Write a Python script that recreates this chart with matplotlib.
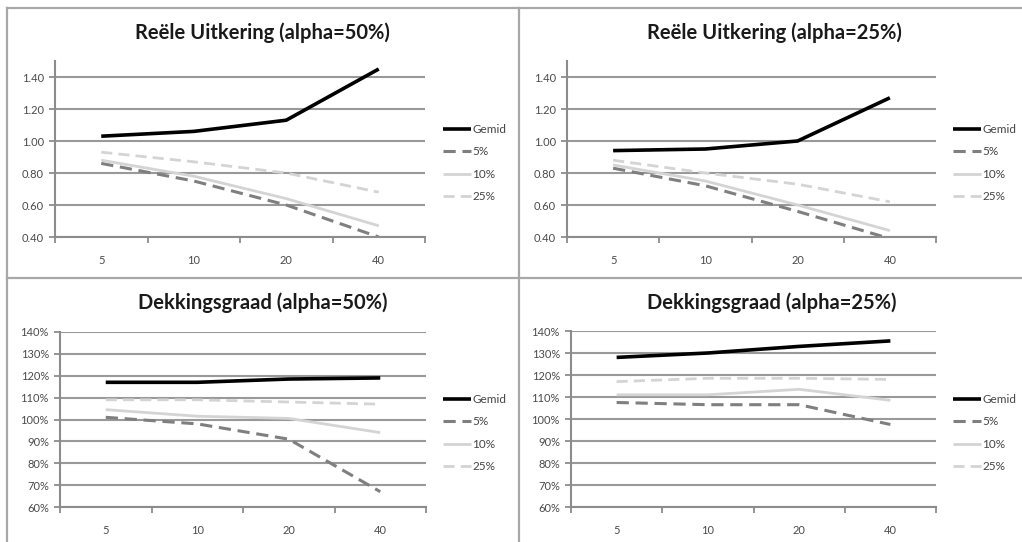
import matplotlib
matplotlib.use("Agg")
import matplotlib.pyplot as plt
from matplotlib.lines import Line2D
from matplotlib.ticker import FuncFormatter, FixedLocator

# ---------------- data ----------------
categories = ["5", "10", "20", "40"]
series_names = ["Gemid", "5%", "10%", "25%"]

uitk50_gemid = [1.03, 1.06, 1.13, 1.45]
uitk50_p5 = [0.86, 0.75, 0.60, 0.40]
uitk50_p10 = [0.88, 0.78, 0.64, 0.47]
uitk50_p25 = [0.93, 0.87, 0.80, 0.68]

uitk25_gemid = [0.94, 0.95, 1.00, 1.27]
uitk25_p5 = [0.83, 0.72, 0.56, 0.39]
uitk25_p10 = [0.85, 0.75, 0.60, 0.44]
uitk25_p25 = [0.88, 0.80, 0.73, 0.62]

dekk50_gemid = [1.17, 1.17, 1.185, 1.19]
dekk50_p5 = [1.01, 0.98, 0.91, 0.67]
dekk50_p10 = [1.045, 1.015, 1.005, 0.94]
dekk50_p25 = [1.09, 1.09, 1.08, 1.07]

dekk25_gemid = [1.28, 1.30, 1.33, 1.355]
dekk25_p5 = [1.075, 1.065, 1.065, 0.975]
dekk25_p10 = [1.11, 1.11, 1.135, 1.085]
dekk25_p25 = [1.17, 1.185, 1.185, 1.18]

titles = ["Reële Uitkering (alpha=50%)", "Reële Uitkering (alpha=25%)",
          "Dekkingsgraad (alpha=50%)", "Dekkingsgraad (alpha=25%)"]

uitk_ticks = [0.40, 0.60, 0.80, 1.00, 1.20, 1.40]
dekk_ticks = [0.60, 0.70, 0.80, 0.90, 1.00, 1.10, 1.20, 1.30, 1.40]

# ---------------- layout ----------------
W, H = 1022, 542
fig = plt.figure(figsize=(W / 100, H / 100), dpi=100)
fig.patch.set_facecolor("white")
FONT = "Lato"

def fx(px):
    return px / W

def fy(py):
    return 1 - py / H

def add_ax(x0, x1, ytop, ybot):
    return fig.add_axes([fx(x0), fy(ybot), fx(x1 - x0), (ybot - ytop) / H])

styles = [
    dict(color="#000000", lw=2.6, ls="-"),
    dict(color="#7f7f7f", lw=2.2, ls=(0, (4, 2.2))),
    dict(color="#d4d4d4", lw=2.0, ls="-"),
    dict(color="#d4d4d4", lw=2.0, ls=(0, (4, 2.2))),
]

panels = [
    dict(box=(55, 425, 61, 237), ylim=(0.40, 1.50), ticks=uitk_ticks, pct=False,
         data=[uitk50_gemid, uitk50_p5, uitk50_p10, uitk50_p25],
         title_xy=(262, 33), leg_xy=(443, 124)),
    dict(box=(567, 936, 61, 237), ylim=(0.40, 1.50), ticks=uitk_ticks, pct=False,
         data=[uitk25_gemid, uitk25_p5, uitk25_p10, uitk25_p25],
         title_xy=(774, 33), leg_xy=(953, 124)),
    dict(box=(60, 426, 332, 507), ylim=(0.60, 1.40), ticks=dekk_ticks, pct=True,
         data=[dekk50_gemid, dekk50_p5, dekk50_p10, dekk50_p25],
         title_xy=(263, 303), leg_xy=(443, 394)),
    dict(box=(571, 936, 331, 507), ylim=(0.60, 1.40), ticks=dekk_ticks, pct=True,
         data=[dekk25_gemid, dekk25_p5, dekk25_p10, dekk25_p25],
         title_xy=(772, 303), leg_xy=(953, 394)),
]

xs = list(range(len(categories)))
for p, title in zip(panels, titles):
    ax = add_ax(*p["box"])
    ax.set_facecolor("none")
    for ys, name, st in zip(p["data"], series_names, styles):
        ax.plot(xs, ys, label=name, solid_capstyle="butt", dash_capstyle="butt", **st)
    ax.set_xlim(-0.5, len(categories) - 0.5)
    ax.set_ylim(*p["ylim"])
    ax.yaxis.set_major_locator(FixedLocator(p["ticks"]))
    if p["pct"]:
        ax.yaxis.set_major_formatter(FuncFormatter(lambda v, _: f"{v*100:.0f}%"))
    else:
        ax.yaxis.set_major_formatter(FuncFormatter(lambda v, _: f"{v:.2f}"))
    ax.set_xticks(xs)
    ax.set_xticklabels(categories)
    ax.set_xticks([i - 0.5 for i in range(len(categories) + 1)], minor=True)
    ax.tick_params(axis="x", which="major", length=0, pad=13, labelsize=8, labelcolor="#4a4a4a")
    ax.tick_params(axis="x", which="minor", length=4, width=1.3, color="#8c8c8c", direction="out")
    ax.tick_params(axis="y", which="major", length=4, width=1.3, color="#8c8c8c",
                   labelsize=8, labelcolor="#4a4a4a", pad=4)
    for lab in ax.get_xticklabels() + ax.get_yticklabels():
        lab.set_fontfamily(FONT)
    ax.grid(axis="y", color="#999999", lw=1.5)
    ax.set_axisbelow(True)
    for s in ("top", "right"):
        ax.spines[s].set_visible(False)
    for s in ("left", "bottom"):
        ax.spines[s].set_color("#8c8c8c")
        ax.spines[s].set_linewidth(1.5)
    fig.text(fx(p["title_xy"][0]), fy(p["title_xy"][1]), title, ha="center", va="center",
             fontsize=14.5, fontweight="bold", fontfamily=FONT, color="#1a1a1a")
    ax.legend(loc="upper left", bbox_to_anchor=(fx(p["leg_xy"][0]), fy(p["leg_xy"][1])),
              bbox_transform=fig.transFigure, frameon=False,
              handlelength=2.4, handletextpad=0.1, labelspacing=0.97,
              borderpad=0, borderaxespad=0, labelcolor="#444444",
              prop=dict(family=FONT, size=8.5))

# panel borders
bc = "#a8a8a8"
blw = 1.6
fig.add_artist(Line2D([fx(7), fx(7)], [fy(8), fy(542)], color=bc, lw=blw, transform=fig.transFigure))
fig.add_artist(Line2D([fx(519), fx(519)], [fy(8), fy(542)], color=bc, lw=blw, transform=fig.transFigure))
fig.add_artist(Line2D([fx(7), fx(1022)], [fy(8), fy(8)], color=bc, lw=blw, transform=fig.transFigure))
fig.add_artist(Line2D([fx(7), fx(1022)], [fy(278), fy(278)], color=bc, lw=blw, transform=fig.transFigure))

fig.savefig("out.png", dpi=100, facecolor="white")
